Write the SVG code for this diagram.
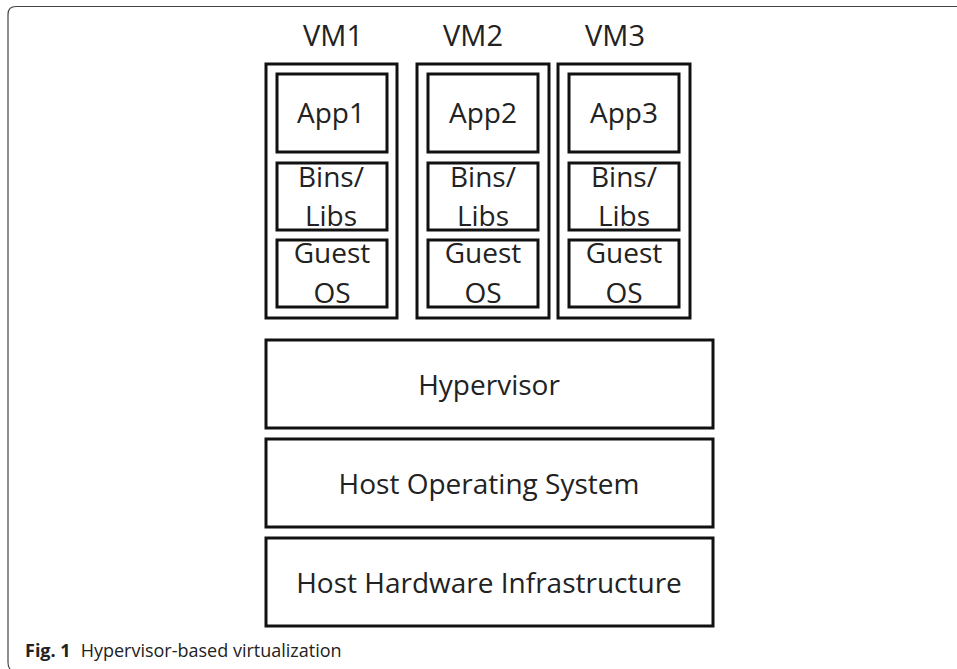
<svg xmlns="http://www.w3.org/2000/svg" width="957" height="669" viewBox="0 0 957 669">
<style>
.b{fill:#fff;stroke:#111;stroke-width:3}
.t{font-family:"Open Sans","Liberation Sans",sans-serif;font-size:28px;fill:#222;text-anchor:middle}
.v{font-size:29px}
.cap{font-family:"Open Sans","Liberation Sans",sans-serif;font-size:18px;fill:#222}
</style>
<rect width="957" height="669" fill="#fff"/>
<path d="M957,6.5 H16 Q8,6.5 8,14.5 V662 Q8,667 10,669" fill="none" stroke="#444" stroke-width="1.2"/>
<g id="vm1">
<text class="t v" x="333" y="46">VM1</text>
<rect class="b" x="266" y="64" width="131" height="254"/>
<g id="app1"><rect class="b" x="277" y="74" width="110" height="78"/><text class="t" x="331" y="123">App1</text></g>
<g id="bins1"><rect class="b" x="277" y="163" width="110" height="67"/><text class="t" x="331" y="187">Bins/</text><text class="t" x="331" y="226">Libs</text></g>
<g id="os1"><rect class="b" x="277" y="240" width="110" height="67"/><text class="t" x="332" y="263">Guest</text><text class="t" x="332" y="303">OS</text></g>
</g>
<g id="vm2">
<text class="t v" x="473" y="46">VM2</text>
<rect class="b" x="417" y="64" width="132" height="254"/>
<g id="app2"><rect class="b" x="428" y="74" width="110" height="78"/><text class="t" x="483" y="123">App2</text></g>
<g id="bins2"><rect class="b" x="428" y="163" width="110" height="67"/><text class="t" x="483" y="187">Bins/</text><text class="t" x="483" y="226">Libs</text></g>
<g id="os2"><rect class="b" x="428" y="240" width="110" height="67"/><text class="t" x="483" y="263">Guest</text><text class="t" x="483" y="303">OS</text></g>
</g>
<g id="vm3">
<text class="t v" x="615" y="46">VM3</text>
<rect class="b" x="558" y="64" width="132" height="254"/>
<g id="app3"><rect class="b" x="569" y="74" width="110" height="78"/><text class="t" x="624" y="123">App3</text></g>
<g id="bins3"><rect class="b" x="569" y="163" width="110" height="67"/><text class="t" x="624" y="187">Bins/</text><text class="t" x="624" y="226">Libs</text></g>
<g id="os3"><rect class="b" x="569" y="240" width="110" height="67"/><text class="t" x="624" y="263">Guest</text><text class="t" x="624" y="303">OS</text></g>
</g>
<g id="hypervisor"><rect class="b" x="266" y="340" width="447" height="88"/><text class="t" x="489" y="395">Hypervisor</text></g>
<g id="hostos"><rect class="b" x="266" y="439" width="447" height="88"/><text class="t" x="489" y="494">Host Operating System</text></g>
<g id="hardware"><rect class="b" x="266" y="538" width="447" height="88"/><text class="t" x="489" y="593">Host Hardware Infrastructure</text></g>
<g id="connectors"/>
<text class="cap" x="25" y="657"><tspan font-weight="bold">Fig. 1</tspan><tspan dx="10">Hypervisor-based virtualization</tspan></text>
</svg>
